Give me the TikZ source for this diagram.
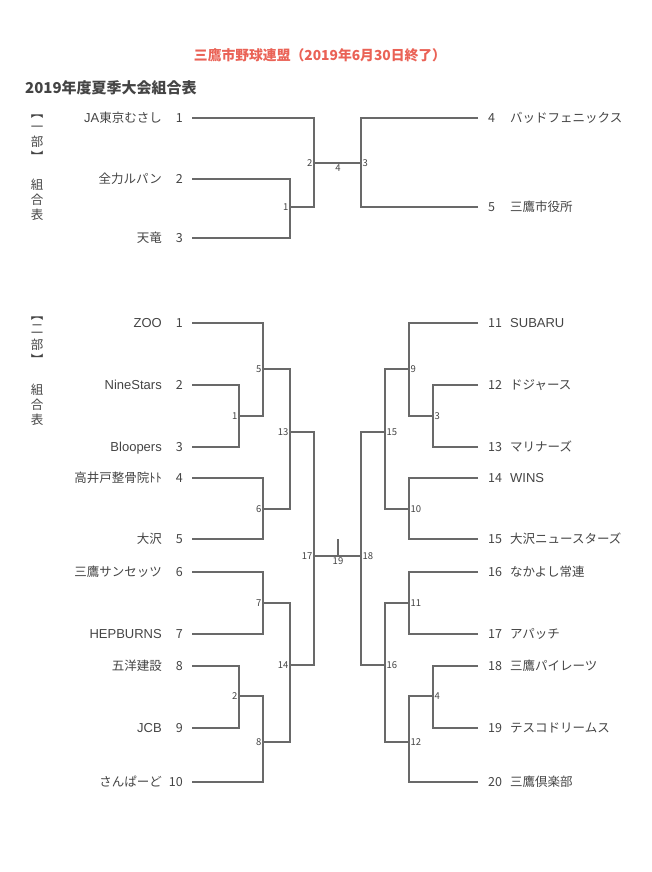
\documentclass[tikz,border=0pt]{standalone}
\usepackage{fontspec}
\setmainfont{Noto Sans CJK JP}
\newfontfamily\latinfont{Liberation Sans}
\definecolor{inkgray}{RGB}{68,68,68}
\definecolor{linegray}{RGB}{105,105,105}
\definecolor{titlered}{RGB}{234,98,86}

\begin{document}
\begin{tikzpicture}[x=1pt,y=-1pt]
  \tikzstyle{TextStyle}=[inner sep=0pt,text height=10.9pt,text depth=1.6pt,text=inkgray,font=\fontsize{12.5}{14}\selectfont]
  \tikzstyle{NameL}=[TextStyle,anchor=east]
  \tikzstyle{NameR}=[TextStyle,anchor=west]
  \tikzstyle{WideL}=[NameL,font=\latinfont\fontsize{13}{14}\selectfont]
  \tikzstyle{WideR}=[NameR,font=\latinfont\fontsize{13}{14}\selectfont]
  \tikzstyle{NumL}=[TextStyle,anchor=east,inner xsep=9pt]
  \tikzstyle{NumR}=[TextStyle,anchor=west,inner xsep=10pt]
  \tikzstyle{MatchStyle}=[inner sep=1.5pt,text=inkgray,font=\fontsize{9.5}{10}\selectfont]
  \tikzstyle{MatchL}=[MatchStyle,anchor=east]
  \tikzstyle{MatchR}=[MatchStyle,anchor=west]
  \tikzstyle{MatchB}=[MatchStyle,anchor=north]
  \tikzstyle{SideStyle}=[TextStyle,anchor=center]
  \tikzstyle{EdgeStyle}=[draw=linegray,line width=1.1pt]
  \useasboundingbox (0,0) rectangle (651,872);

  \node[text=titlered,font=\bfseries\fontsize{13.8}{15}\selectfont] (title) at (320,55) {三鷹市野球連盟（2019年6月30日終了）};
  \node[anchor=west,inner sep=0pt,text=inkgray,font=\bfseries\fontsize{15}{17}\selectfont] (heading) at (25,88) {2019年度夏季大会組合表};

  % ichibu
  \node[SideStyle] (sA1) at (37,113) {︻};
  \node[SideStyle] (sA2) at (37,127) {一};
  \node[SideStyle] (sA3) at (37,142) {部};
  \node[SideStyle] (sA4) at (37,157) {︼};
  \node[SideStyle] (sA5) at (37,185) {組};
  \node[SideStyle] (sA6) at (37,200) {合};
  \node[SideStyle] (sA7) at (37,215) {表};
  \node[NameL] (tA1) at (162,118) {{\latinfont\fontsize{13}{14}\selectfont JA}東京むさし};
  \node[NumL] (nA1) at (192,118) {1};
  \node[NameL] (tA2) at (162,179) {全力ルパン};
  \node[NumL] (nA2) at (192,179) {2};
  \node[NameL] (tA3) at (162,238) {天竜};
  \node[NumL] (nA3) at (192,238) {3};
  \node[NumR] (nA4) at (478,118) {4};
  \node[NameR] (tA4) at (510,118) {バッドフェニックス};
  \node[NumR] (nA5) at (478,207) {5};
  \node[NameR] (tA5) at (510,207) {三鷹市役所};
  \coordinate (mA1) at (290,207);
  \coordinate (mA2) at (314,163);
  \coordinate (mA3) at (361,163);
  \coordinate (mA4) at (338,163);
  \draw[EdgeStyle] (nA2.east) -| (mA1);
  \draw[EdgeStyle] (nA3.east) -| (mA1);
  \draw[EdgeStyle] (nA1.east) -| (mA2);
  \draw[EdgeStyle] (mA1) -| (mA2);
  \draw[EdgeStyle] (nA4.west) -| (mA3);
  \draw[EdgeStyle] (nA5.west) -| (mA3);
  \draw[EdgeStyle] (mA2) -- (mA3);
  \node[MatchL] (lA1) at (mA1) {1};
  \node[MatchL] (lA2) at (mA2) {2};
  \node[MatchR] (lA3) at (mA3) {3};
  \node[MatchB] (lA4) at (mA4) {4};

  % nibu
  \node[SideStyle] (sB1) at (37,315) {︻};
  \node[SideStyle] (sB2) at (37,329) {二};
  \node[SideStyle] (sB3) at (37,345) {部};
  \node[SideStyle] (sB4) at (37,360) {︼};
  \node[SideStyle] (sB5) at (37,390) {組};
  \node[SideStyle] (sB6) at (37,405) {合};
  \node[SideStyle] (sB7) at (37,420) {表};
  \node[WideL] (tB1) at (162,323) {ZOO};
  \node[NumL] (nB1) at (192,323) {1};
  \node[WideL] (tB2) at (162,385) {NineStars};
  \node[NumL] (nB2) at (192,385) {2};
  \node[WideL] (tB3) at (162,447) {Bloopers};
  \node[NumL] (nB3) at (192,447) {3};
  \node[NameL] (tB4) at (162,478) {高井戸整骨院ﾄﾄ};
  \node[NumL] (nB4) at (192,478) {4};
  \node[NameL] (tB5) at (162,539) {大沢};
  \node[NumL] (nB5) at (192,539) {5};
  \node[NameL] (tB6) at (162,572) {三鷹サンセッツ};
  \node[NumL] (nB6) at (192,572) {6};
  \node[WideL] (tB7) at (162,634) {HEPBURNS};
  \node[NumL] (nB7) at (192,634) {7};
  \node[NameL] (tB8) at (162,666) {五洋建設};
  \node[NumL] (nB8) at (192,666) {8};
  \node[WideL] (tB9) at (162,728) {JCB};
  \node[NumL] (nB9) at (192,728) {9};
  \node[NameL] (tB10) at (162,782) {さんぱーど};
  \node[NumL] (nB10) at (192,782) {10};

  \node[NumR] (nB11) at (478,323) {11};
  \node[WideR] (tB11) at (510,323) {SUBARU};
  \node[NumR] (nB12) at (478,385) {12};
  \node[NameR] (tB12) at (510,385) {ドジャース};
  \node[NumR] (nB13) at (478,447) {13};
  \node[NameR] (tB13) at (510,447) {マリナーズ};
  \node[NumR] (nB14) at (478,478) {14};
  \node[WideR] (tB14) at (510,478) {WINS};
  \node[NumR] (nB15) at (478,539) {15};
  \node[NameR] (tB15) at (510,539) {大沢ニュースターズ};
  \node[NumR] (nB16) at (478,572) {16};
  \node[NameR] (tB16) at (510,572) {なかよし常連};
  \node[NumR] (nB17) at (478,634) {17};
  \node[NameR] (tB17) at (510,634) {アパッチ};
  \node[NumR] (nB18) at (478,666) {18};
  \node[NameR] (tB18) at (510,666) {三鷹パイレーツ};
  \node[NumR] (nB19) at (478,728) {19};
  \node[NameR] (tB19) at (510,728) {テスコドリームス};
  \node[NumR] (nB20) at (478,782) {20};
  \node[NameR] (tB20) at (510,782) {三鷹倶楽部};

  \coordinate (mB1) at (239,416);
  \coordinate (mB5) at (263,369);
  \coordinate (mB6) at (263,509);
  \coordinate (mB13) at (290,432);
  \coordinate (mB7) at (263,603);
  \coordinate (mB2) at (239,696);
  \coordinate (mB8) at (263,742);
  \coordinate (mB14) at (290,665);
  \coordinate (mB17) at (314,556);
  \coordinate (mB3) at (433,416);
  \coordinate (mB9) at (409,369);
  \coordinate (mB10) at (409,509);
  \coordinate (mB15) at (385,432);
  \coordinate (mB11) at (409,603);
  \coordinate (mB4) at (433,696);
  \coordinate (mB12) at (409,742);
  \coordinate (mB16) at (385,665);
  \coordinate (mB18) at (361,556);
  \coordinate (mB19) at (338,556);
  \coordinate (mB19t) at (338,539);

  \draw[EdgeStyle] (nB2.east) -| (mB1);
  \draw[EdgeStyle] (nB3.east) -| (mB1);
  \draw[EdgeStyle] (nB1.east) -| (mB5);
  \draw[EdgeStyle] (mB1) -| (mB5);
  \draw[EdgeStyle] (nB4.east) -| (mB6);
  \draw[EdgeStyle] (nB5.east) -| (mB6);
  \draw[EdgeStyle] (mB5) -| (mB13);
  \draw[EdgeStyle] (mB6) -| (mB13);
  \draw[EdgeStyle] (nB6.east) -| (mB7);
  \draw[EdgeStyle] (nB7.east) -| (mB7);
  \draw[EdgeStyle] (nB8.east) -| (mB2);
  \draw[EdgeStyle] (nB9.east) -| (mB2);
  \draw[EdgeStyle] (mB2) -| (mB8);
  \draw[EdgeStyle] (nB10.east) -| (mB8);
  \draw[EdgeStyle] (mB7) -| (mB14);
  \draw[EdgeStyle] (mB8) -| (mB14);
  \draw[EdgeStyle] (mB13) -| (mB17);
  \draw[EdgeStyle] (mB14) -| (mB17);

  \draw[EdgeStyle] (nB12.west) -| (mB3);
  \draw[EdgeStyle] (nB13.west) -| (mB3);
  \draw[EdgeStyle] (nB11.west) -| (mB9);
  \draw[EdgeStyle] (mB3) -| (mB9);
  \draw[EdgeStyle] (nB14.west) -| (mB10);
  \draw[EdgeStyle] (nB15.west) -| (mB10);
  \draw[EdgeStyle] (mB9) -| (mB15);
  \draw[EdgeStyle] (mB10) -| (mB15);
  \draw[EdgeStyle] (nB16.west) -| (mB11);
  \draw[EdgeStyle] (nB17.west) -| (mB11);
  \draw[EdgeStyle] (nB18.west) -| (mB4);
  \draw[EdgeStyle] (nB19.west) -| (mB4);
  \draw[EdgeStyle] (mB4) -| (mB12);
  \draw[EdgeStyle] (nB20.west) -| (mB12);
  \draw[EdgeStyle] (mB11) -| (mB16);
  \draw[EdgeStyle] (mB12) -| (mB16);
  \draw[EdgeStyle] (mB15) -| (mB18);
  \draw[EdgeStyle] (mB16) -| (mB18);
  \draw[EdgeStyle] (mB17) -- (mB18);
  \draw[EdgeStyle] (mB19t) -- (mB19);

  \node[MatchL] (lB1) at (mB1) {1};
  \node[MatchL] (lB2) at (mB2) {2};
  \node[MatchL] (lB5) at (mB5) {5};
  \node[MatchL] (lB6) at (mB6) {6};
  \node[MatchL] (lB7) at (mB7) {7};
  \node[MatchL] (lB8) at (mB8) {8};
  \node[MatchL] (lB13) at (mB13) {13};
  \node[MatchL] (lB14) at (mB14) {14};
  \node[MatchL] (lB17) at (mB17) {17};
  \node[MatchR] (lB3) at (mB3) {3};
  \node[MatchR] (lB4) at (mB4) {4};
  \node[MatchR] (lB9) at (mB9) {9};
  \node[MatchR] (lB10) at (mB10) {10};
  \node[MatchR] (lB11) at (mB11) {11};
  \node[MatchR] (lB12) at (mB12) {12};
  \node[MatchR] (lB15) at (mB15) {15};
  \node[MatchR] (lB16) at (mB16) {16};
  \node[MatchR] (lB18) at (mB18) {18};
  \node[MatchB] (lB19) at (mB19) {19};
\end{tikzpicture}
\end{document}
